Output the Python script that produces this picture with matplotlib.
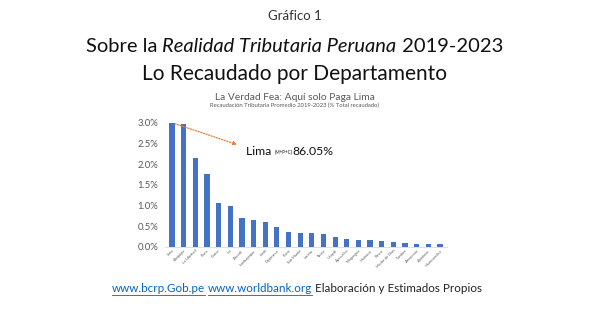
import matplotlib
matplotlib.use("Agg")
import matplotlib.pyplot as plt
from matplotlib.lines import Line2D

# Recaudación tributaria promedio 2019-2023, % del total (sin Lima M+P+C)
departamentos = ["Lima", "Arequipa", "La Libertad", "Piura", "Cusco", "Ica",
                 "Ancash", "Lambayeque", "Junín", "Cajamarca", "Puno",
                 "San Martín", "Loreto", "Tacna", "Ucayali", "Ayacucho",
                 "Moquegua", "Huánuco", "Pasco", "Madre de Dios", "Tumbes",
                 "Amazonas", "Apurímac", "Huancavelica"]
recaudacion = [3.00, 2.96, 2.15, 1.75, 1.06, 0.98, 0.69, 0.65, 0.60, 0.47,
               0.36, 0.34, 0.33, 0.30, 0.23, 0.18, 0.17, 0.17, 0.15, 0.11,
               0.10, 0.07, 0.06, 0.06]
yticks = [0.0, 0.5, 1.0, 1.5, 2.0, 2.5, 3.0]
lima_total = 86.05

FONT = ["Lato", "DejaVu Sans"]
plt.rcParams["font.family"] = FONT
W, H = 589, 331

fig = plt.figure(figsize=(W / 100, H / 100), dpi=100)
fig.patch.set_facecolor("white")


def fy(py):
    return 1 - py / H


def texto_en_linea(partes, y, x0=None, centrado=False):
    """Dibuja trozos de texto seguidos en una línea; devuelve sus cajas."""
    r = fig.canvas.get_renderer()
    arts = []
    xpos = 0 if x0 is None else x0
    for txt, kw in partes:
        t = fig.text(xpos / W, fy(y), txt, ha="left", va="center", **kw)
        bb = t.get_window_extent(r)
        arts.append(t)
        xpos = bb.x1
    if centrado:
        shift = (W - xpos) / 2
        for t in arts:
            px, py = t.get_position()
            t.set_position((px + shift / W, py))
    return [t.get_window_extent(r) for t in arts]


fig.canvas.draw()

fig.text(0.5, fy(16), "Gráfico 1", ha="center", va="center", fontsize=9.5, color="#333333")
base = dict(fontsize=14.5, color="#111111")
texto_en_linea([("Sobre la ", base),
                ("Realidad Tributaria Peruana", dict(base, style="italic")),
                (" 2019-2023", base)], 47, centrado=True)
fig.text(0.5, fy(74), "Lo Recaudado por Departamento", ha="center", va="center",
         fontsize=15, color="#111111")
fig.text(0.5, fy(97), "La Verdad Fea: Aquí solo Paga Lima", ha="center", va="center",
         fontsize=7.4, color="#595959")
fig.text(0.5, fy(105), "Recaudación Tributaria Promedio 2019-2023 (% Total recaudado)",
         ha="center", va="center", fontsize=4.2, color="#595959")

ax = fig.add_axes([165 / W, fy(246.7), (447 - 165) / W, (246.7 - 122.7) / H])
x = range(len(departamentos))
ax.bar(x, recaudacion, width=0.45, color="#4472C4")
ax.set_xlim(-0.6, len(departamentos) - 0.4)
ax.set_ylim(0, 3.0)
ax.set_yticks(yticks)
ax.set_yticklabels([f"{v:.1f}%" for v in yticks], fontsize=6.8, color="#595959")
ax.set_xticks(list(x))
ax.set_xticklabels(departamentos, rotation=45, ha="right", rotation_mode="anchor",
                   fontsize=2.8, color="#595959")
ax.tick_params(length=0)
ax.tick_params(axis="y", pad=5)
ax.tick_params(axis="x", pad=1.5)
for s in ["top", "right", "left"]:
    ax.spines[s].set_visible(False)
ax.spines["bottom"].set_color("#d9d9d9")
ax.spines["bottom"].set_linewidth(0.6)

# flecha hacia el total de Lima
ax.annotate("", xy=(5.8, 2.45), xytext=(0.0, 3.0),
            arrowprops=dict(arrowstyle="-|>", color="#ED7D31", lw=0.9,
                            linestyle=(0, (1, 1.2)), mutation_scale=5))
negro = dict(color="#111111")
texto_en_linea([("Lima ", dict(negro, fontsize=8.8)),
                ("(M+P+C)", dict(negro, fontsize=3.3)),
                (f"{lima_total:.2f}%", dict(negro, fontsize=8.8))], 152, x0=246)

# fuentes con enlaces subrayados
azul = dict(color="#0563C1", fontsize=8.4)
gris = dict(color="#222222", fontsize=8.4)
cajas = texto_en_linea([("www.bcrp.Gob.pe", azul), (" ", gris),
                        ("www.worldbank.org", azul),
                        (" Elaboración y Estimados Propios", gris)], 289, x0=112)
for i in (0, 2):
    bb = cajas[i]
    y0 = (bb.y0 - 0.5) / H
    fig.add_artist(Line2D([bb.x0 / W, bb.x1 / W], [y0, y0], color="#0563C1", lw=0.6))

fig.savefig("out.png", dpi=100)
